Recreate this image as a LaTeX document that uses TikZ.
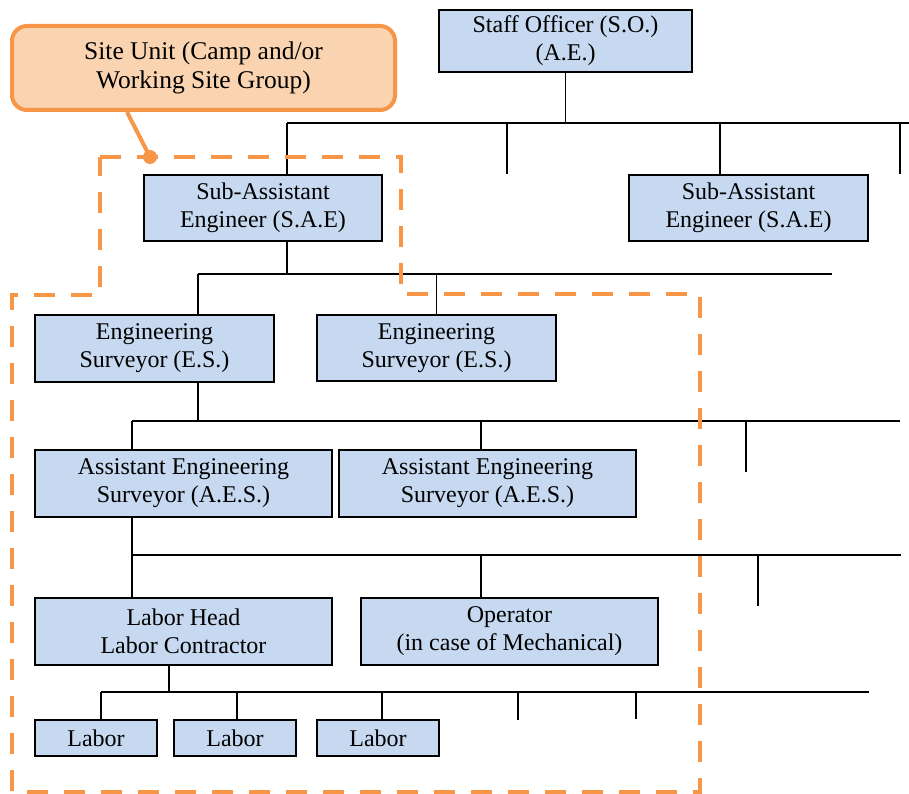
\documentclass[tikz,border=0pt]{standalone}
\usepackage{fontspec}
\setmainfont{Liberation Serif}
\definecolor{boxblue}{HTML}{C6D9F0}
\definecolor{siteorange}{HTML}{F79646}
\definecolor{sitefill}{HTML}{FAD3B0}
\begin{document}
\begin{tikzpicture}[x=1pt,y=-1pt,
  box/.style={draw=black, fill=boxblue, line width=1.6pt, align=center,
    inner sep=0pt, font=\fontsize{24}{28}\selectfont},
  link/.style={draw=black, line width=1.6pt},
  grouping/.style={draw=siteorange, line width=4pt, dash pattern=on 21pt off 16pt},
]
\useasboundingbox (0,0) rectangle (909,794);

% --- positions on the horizontal buses
\coordinate (bus1L) at (287,123);  \coordinate (bus1R) at (909,123);
\coordinate (bus2L) at (198,274);  \coordinate (bus2R) at (832,274);
\coordinate (bus3L) at (132,421);  \coordinate (bus3R) at (900,421);
\coordinate (bus4L) at (132,555);  \coordinate (bus4R) at (901,555);
\coordinate (bus5L) at (101,692);  \coordinate (bus5R) at (869,692);

% --- boxes
\node[box, minimum width=253pt, minimum height=62pt] (so)   at (565.5,41)  {Staff Officer (S.O.)\\(A.E.)};
\node[box, minimum width=238pt, minimum height=66pt] (sae1) at (263,208)   {Sub-Assistant\\Engineer (S.A.E)};
\node[box, minimum width=239pt, minimum height=66pt] (sae2) at (748.5,208) {Sub-Assistant\\Engineer (S.A.E)};
\node[box, minimum width=239pt, minimum height=67pt] (es1)  at (154.5,348.5) {Engineering\\Surveyor (E.S.)};
\node[box, minimum width=239pt, minimum height=66pt] (es2)  at (436.5,348)  {Engineering\\Surveyor (E.S.)};
\node[box, minimum width=297pt, minimum height=67pt] (aes1) at (183.5,483.5) {Assistant Engineering\\Surveyor (A.E.S.)};
\node[box, minimum width=297pt, minimum height=67pt] (aes2) at (487.5,483.5) {Assistant Engineering\\Surveyor (A.E.S.)};
\node[box, minimum width=297pt, minimum height=67pt] (lh)   at (183.5,631.5) {Labor Head\\Labor Contractor};
\node[box, minimum width=297pt, minimum height=67pt] (op)   at (509.5,631.5) {Operator\\(in case of Mechanical)};
\node[box, minimum width=122pt, minimum height=36pt] (lab1) at (96,738)  {Labor};
\node[box, minimum width=122pt, minimum height=36pt] (lab2) at (235,738) {Labor};
\node[box, minimum width=122pt, minimum height=36pt] (lab3) at (378,738) {Labor};

% --- free ends of the open branches
\coordinate (t1a) at (507,174);
\coordinate (t1b) at (900,174);
\coordinate (t3a) at (746,472);
\coordinate (t4a) at (758,606);
\coordinate (t5a) at (518,720);
\coordinate (t5b) at (636,719);

% --- level 1: Staff Officer
\draw[link] (so.south) -- (so.south |- bus1L);
\draw[link] (bus1L) -- (bus1R);
\draw[link] (bus1L) -- (bus1L |- sae1.north);
\draw[link] (t1a |- bus1L) -- (t1a);
\coordinate (j1c) at (720,123);
\draw[link] (j1c) -- (j1c |- sae2.north);
\draw[link] (t1b |- bus1L) -- (t1b);

% --- level 2: Sub-Assistant Engineer
\draw[link] (bus1L |- sae1.south) -- (bus1L |- bus2L);
\draw[link] (bus2L) -- (bus2R);
\draw[link] (bus2L) -- (bus2L |- es1.north);
\draw[link] (es2.north |- bus2L) -- (es2.north);

% --- level 3: Engineering Surveyor
\draw[link] (bus2L |- es1.south) -- (bus2L |- bus3L);
\draw[link] (bus3L) -- (bus3R);
\draw[link] (bus3L) -- (bus3L |- aes1.north);
\coordinate (j3b) at (481,421);
\draw[link] (j3b) -- (j3b |- aes2.north);
\draw[link] (t3a |- bus3L) -- (t3a);

% --- level 4: Assistant Engineering Surveyor
\draw[link] (bus3L |- aes1.south) -- (bus4L);
\draw[link] (bus4L) -- (bus4R);
\draw[link] (bus4L) -- (bus4L |- lh.north);
\coordinate (j4b) at (481,555);
\draw[link] (j4b) -- (j4b |- op.north);
\draw[link] (t4a |- bus4L) -- (t4a);

% --- level 5: Labor Head
\coordinate (j5s) at (169,692);
\draw[link] (j5s |- lh.south) -- (j5s);
\draw[link] (bus5L) -- (bus5R);
\draw[link] (bus5L) -- (bus5L |- lab1.north);
\coordinate (j5b) at (237,692);
\coordinate (j5c) at (382,692);
\draw[link] (j5b) -- (j5b |- lab2.north);
\draw[link] (j5c) -- (j5c |- lab3.north);
\draw[link] (t5a |- bus5L) -- (t5a);
\draw[link] (t5b |- bus5L) -- (t5b);

% --- site unit outline
\draw[grouping] (100,157) -- (401,157) -- (401,294) -- (700,294) -- (700,792)
  -- (12,792) -- (12,295) -- (100,295) -- cycle;

% --- site unit callout
\node[draw=siteorange, fill=sitefill, line width=4pt, rounded corners=15pt,
  minimum width=383pt, minimum height=84pt, align=center,
  font=\fontsize{25.5}{29}\selectfont] (site) at (203.5,68)
  {Site Unit (Camp and/or\\Working Site Group)};
\coordinate (pin) at (150,157);
\draw[siteorange, line width=4pt] ([xshift=-76.5pt]site.south) -- (pin);
\fill[siteorange] (pin) circle (7pt);
\end{tikzpicture}
\end{document}
